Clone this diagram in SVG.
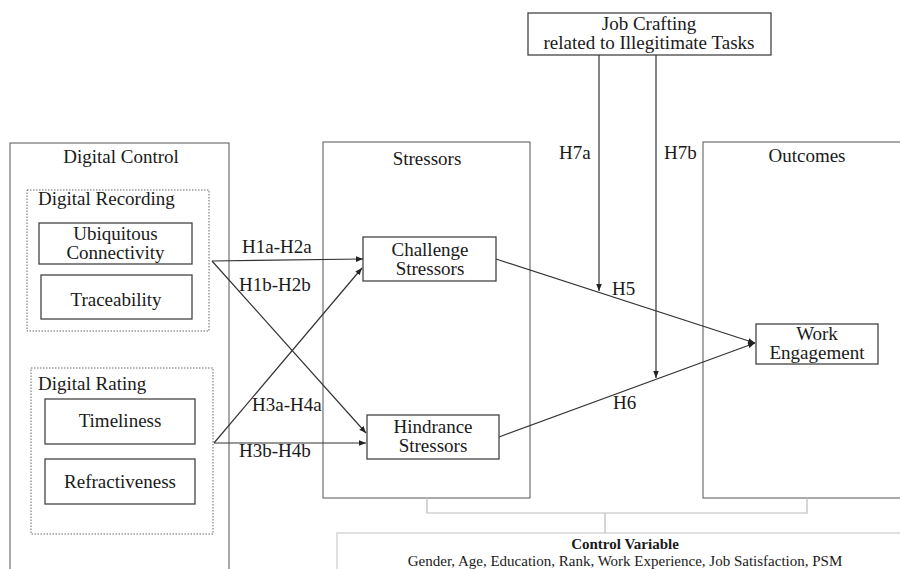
<svg xmlns="http://www.w3.org/2000/svg" width="900" height="569" viewBox="0 0 900 569">
<defs>
<marker id="arr" viewBox="0 0 10 10" refX="10" refY="5" markerWidth="7" markerHeight="7" markerUnits="userSpaceOnUse" orient="auto">
<path d="M0,1 L10,5 L0,9 z" fill="#222"/>
</marker>
<style>
.box{fill:#fff;stroke:#444;stroke-width:1.3}
.grp{fill:none;stroke:#555;stroke-width:1}
.dot{fill:none;stroke:#666;stroke-width:1;stroke-dasharray:1.5,1.5}
text{font-family:'Liberation Serif',serif;font-size:19px;fill:#1a1a1a}
.c{text-anchor:middle}
.cv{font-size:15px;text-anchor:middle}
.ln{fill:none;stroke:#333;stroke-width:1.2}
.br{fill:none;stroke:#bbb;stroke-width:1.2}
</style>
</defs>
<rect width="900" height="569" fill="#fff"/>

<g id="digital-control">
<rect class="grp" x="10" y="143" width="219" height="440"/>
<text class="c" x="121" y="163">Digital  Control</text>
</g>
<g id="digital-recording">
<rect class="dot" x="27" y="190" width="182" height="141"/>
<text x="38" y="205">Digital Recording</text>
</g>
<g id="ubiquitous-connectivity">
<rect class="box" x="39" y="223" width="153" height="41"/>
<text class="c" x="115.5" y="240">Ubiquitous</text>
<text class="c" x="115.5" y="259">Connectivity</text>
</g>
<g id="traceability">
<rect class="box" x="41" y="275" width="151" height="44"/>
<text class="c" x="116" y="306">Traceability</text>
</g>
<g id="digital-rating">
<rect class="dot" x="31" y="368" width="182" height="166"/>
<text x="38" y="390">Digital Rating</text>
</g>
<g id="timeliness">
<rect class="box" x="45" y="399" width="150" height="45"/>
<text class="c" x="120" y="427">Timeliness</text>
</g>
<g id="refractiveness">
<rect class="box" x="45" y="459" width="150" height="45"/>
<text class="c" x="120" y="488">Refractiveness</text>
</g>

<g id="stressors">
<rect class="grp" x="323" y="142" width="207" height="356"/>
<text class="c" x="427" y="165">Stressors</text>
</g>
<g id="challenge-stressors">
<rect class="box" x="363" y="237" width="133" height="44"/>
<text class="c" x="430" y="256">Challenge</text>
<text class="c" x="430" y="275">Stressors</text>
</g>
<g id="hindrance-stressors">
<rect class="box" x="367" y="415" width="132" height="44"/>
<text class="c" x="433" y="433">Hindrance</text>
<text class="c" x="433" y="452">Stressors</text>
</g>

<g id="outcomes">
<rect class="grp" x="703" y="142" width="220" height="356"/>
<text class="c" x="807" y="162">Outcomes</text>
</g>
<g id="work-engagement">
<rect class="box" x="756" y="324" width="122" height="40"/>
<text class="c" x="817" y="340">Work</text>
<text class="c" x="817" y="359">Engagement</text>
</g>

<g id="job-crafting">
<rect class="box" x="528" y="13" width="243" height="42"/>
<text class="c" x="649" y="30">Job Crafting</text>
<text class="c" x="649" y="49">related to Illegitimate Tasks</text>
</g>

<g id="control-variable">
<rect x="337" y="533" width="600" height="60" fill="#fff" stroke="#ccc" stroke-width="1.2"/>
<text class="cv" x="625" y="549" font-weight="bold">Control Variable</text>
<text class="cv" x="625" y="566">Gender, Age, Education, Rank, Work Experience, Job Satisfaction, PSM</text>
</g>

<g id="connectors">
<path class="ln" d="M212,261 L363,259" marker-end="url(#arr)"/>
<path class="ln" d="M212,261 L366,433" marker-end="url(#arr)"/>
<path class="ln" d="M214,443 L362,268" marker-end="url(#arr)"/>
<path class="ln" d="M214,443 L366,443" marker-end="url(#arr)"/>
<path class="ln" d="M496,259 L755,343" marker-end="url(#arr)"/>
<path class="ln" d="M499,437 L755,343" marker-end="url(#arr)"/>
<path class="ln" d="M599,55 L599,291" marker-end="url(#arr)"/>
<path class="ln" d="M656,55 L656,378" marker-end="url(#arr)"/>
<path class="br" d="M427,498 L427,513 L807,513 L807,498 M605,513 L605,533"/>
<text x="242" y="253">H1a-H2a</text>
<text x="239" y="291">H1b-H2b</text>
<text x="252" y="411">H3a-H4a</text>
<text x="239" y="457">H3b-H4b</text>
<text x="612" y="295">H5</text>
<text x="613" y="409">H6</text>
<text x="559" y="159">H7a</text>
<text x="664" y="159">H7b</text>
</g>
</svg>
